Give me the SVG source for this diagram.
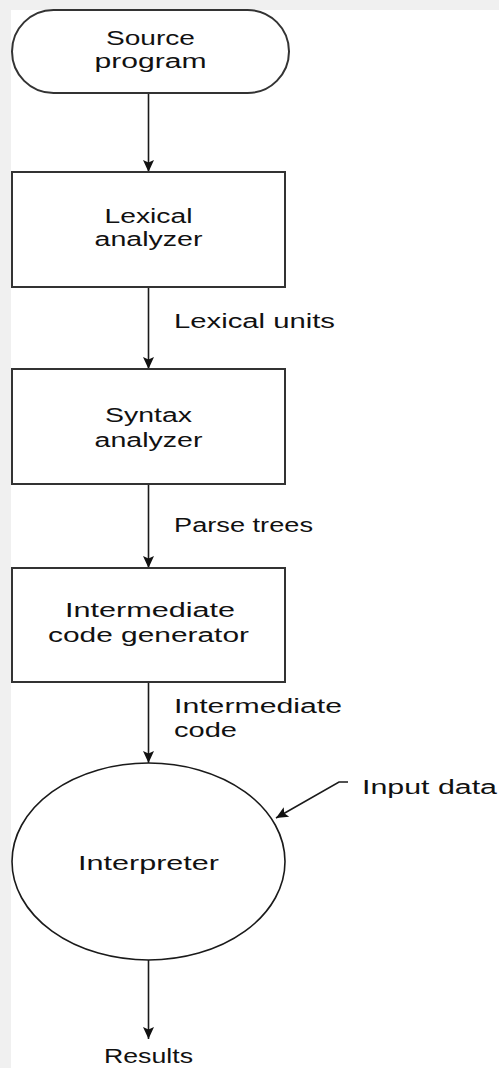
<svg xmlns="http://www.w3.org/2000/svg" width="499" height="1068" viewBox="0 0 499 1068">
  <style>
    .shape { fill: #ffffff; stroke: #333333; stroke-width: 2; }
    .conn { fill: none; stroke: #1a1a1a; stroke-width: 1.6; }
    text { font-family: "Liberation Sans", Arial, sans-serif; font-size: 20px; fill: #111111; }
    .mid { text-anchor: middle; }
  </style>
  <defs>
    <marker id="arrow" markerWidth="12" markerHeight="14" refX="12" refY="7" orient="auto" markerUnits="userSpaceOnUse">
      <path d="M0,1.5 L12,7 L0,12.5 L2.5,7 Z" fill="#111111"/>
    </marker>
  </defs>

  <!-- page background -->
  <rect x="0" y="0" width="499" height="1068" fill="#f0f0f0"/>
  <rect x="11" y="10" width="488" height="1058" fill="#ffffff"/>

  <!-- connectors -->
  <g id="connectors">
    <line class="conn" x1="148.5" y1="93" x2="148.5" y2="172" marker-end="url(#arrow)"/>
    <line class="conn" x1="148.5" y1="287" x2="148.5" y2="369" marker-end="url(#arrow)"/>
    <line class="conn" x1="148.5" y1="484" x2="148.5" y2="568" marker-end="url(#arrow)"/>
    <line class="conn" x1="148.5" y1="682" x2="148.5" y2="763" marker-end="url(#arrow)"/>
    <line class="conn" x1="148.5" y1="960" x2="148.5" y2="1039" marker-end="url(#arrow)"/>
    <polyline class="conn" points="348,782 339,782 276,818" marker-end="url(#arrow)"/>
    <text x="174" y="328" textLength="161" lengthAdjust="spacingAndGlyphs">Lexical units</text>
    <text x="174" y="532" textLength="139" lengthAdjust="spacingAndGlyphs">Parse trees</text>
    <text x="174" y="713" textLength="168" lengthAdjust="spacingAndGlyphs">Intermediate</text>
    <text x="174" y="737" textLength="63" lengthAdjust="spacingAndGlyphs">code</text>
    <text x="362" y="794" textLength="135" lengthAdjust="spacingAndGlyphs">Input data</text>
    <text class="mid" x="148.5" y="1063" textLength="89" lengthAdjust="spacingAndGlyphs">Results</text>
  </g>

  <!-- source program (terminal) -->
  <g id="source-program">
    <rect class="shape" x="12" y="10" width="277" height="83" rx="41.5" ry="41.5"/>
    <text class="mid" x="150.5" y="45" textLength="89" lengthAdjust="spacingAndGlyphs">Source</text>
    <text class="mid" x="150.5" y="68" textLength="112" lengthAdjust="spacingAndGlyphs">program</text>
  </g>

  <!-- lexical analyzer -->
  <g id="lexical-analyzer">
    <rect class="shape" x="12" y="172" width="273" height="115"/>
    <text class="mid" x="148.5" y="223" textLength="88" lengthAdjust="spacingAndGlyphs">Lexical</text>
    <text class="mid" x="148.5" y="246" textLength="108" lengthAdjust="spacingAndGlyphs">analyzer</text>
  </g>

  <!-- syntax analyzer -->
  <g id="syntax-analyzer">
    <rect class="shape" x="12" y="369" width="273" height="115"/>
    <text class="mid" x="148.5" y="422" textLength="87" lengthAdjust="spacingAndGlyphs">Syntax</text>
    <text class="mid" x="148.5" y="447" textLength="108" lengthAdjust="spacingAndGlyphs">analyzer</text>
  </g>

  <!-- intermediate code generator -->
  <g id="intermediate-code-generator">
    <rect class="shape" x="12" y="568" width="273" height="114"/>
    <text class="mid" x="150" y="617" textLength="170" lengthAdjust="spacingAndGlyphs">Intermediate</text>
    <text class="mid" x="148.5" y="642" textLength="201" lengthAdjust="spacingAndGlyphs">code generator</text>
  </g>

  <!-- interpreter -->
  <g id="interpreter">
    <ellipse class="shape" cx="148.5" cy="861.5" rx="136.5" ry="98.5" style="stroke:#1a1a1a;stroke-width:1.6"/>
    <text class="mid" x="148.5" y="870" textLength="141" lengthAdjust="spacingAndGlyphs">Interpreter</text>
  </g>
</svg>
